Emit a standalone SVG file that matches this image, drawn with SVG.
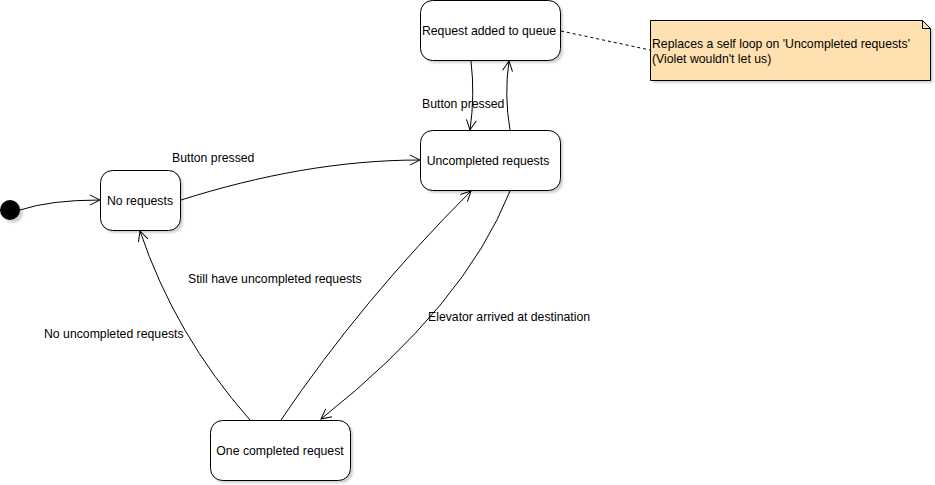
<svg xmlns="http://www.w3.org/2000/svg" width="935" height="485" viewBox="0 0 935 485">
  <style>
    .node rect.box { fill: #ffffff; stroke: #000000; stroke-width: 1; }
    .shadow { fill: #000000; opacity: 0.18; }
    text { font-family: "Liberation Sans", Arial, sans-serif; font-size: 12.25px; fill: #000000; }
    .label { text-anchor: middle; }
    .edge { fill: none; stroke: #000000; stroke-width: 1; marker-end: url(#open); }
    .dash { fill: none; stroke: #000000; stroke-width: 1; stroke-dasharray: 3,3; }
  </style>
  <defs>
    <filter id="blur" x="-10%" y="-10%" width="130%" height="130%">
      <feGaussianBlur stdDeviation="1.2"/>
    </filter>
    <marker id="open" viewBox="0 0 12 12" refX="11" refY="6" markerWidth="12" markerHeight="12" markerUnits="userSpaceOnUse" orient="auto">
      <path d="M1,1 L11,6 L1,11" fill="none" stroke="#000000" stroke-width="1"/>
    </marker>
  </defs>
  <rect width="935" height="485" fill="#ffffff"/>

  <g id="initial" class="node">
    <circle cx="13" cy="213" r="10" class="shadow" filter="url(#blur)"/>
    <circle cx="10" cy="210" r="10" fill="#000000"/>
  </g>

  <g id="no-requests" class="node">
    <rect x="103" y="173" width="80" height="60" rx="12" class="shadow" filter="url(#blur)"/>
    <rect x="100.5" y="170.5" width="80" height="60" rx="12" class="box"/>
    <text x="140" y="205" class="label">No requests</text>
  </g>

  <g id="request-added" class="node">
    <rect x="423" y="3" width="140" height="60" rx="12" class="shadow" filter="url(#blur)"/>
    <rect x="420.5" y="0.5" width="140" height="60" rx="12" class="box"/>
    <text x="489" y="35" class="label">Request added to queue</text>
  </g>

  <g id="uncompleted" class="node">
    <rect x="423" y="133" width="140" height="60" rx="12" class="shadow" filter="url(#blur)"/>
    <rect x="420.5" y="130.5" width="140" height="60" rx="12" class="box"/>
    <text x="488" y="165" class="label">Uncompleted requests</text>
  </g>

  <g id="one-completed" class="node">
    <rect x="213" y="423" width="140" height="60" rx="12" class="shadow" filter="url(#blur)"/>
    <rect x="210.5" y="420.5" width="140" height="60" rx="12" class="box"/>
    <text x="280" y="455" class="label">One completed request</text>
  </g>

  <g id="note" class="node">
    <path d="M653,23 L925,23 L933,31 L933,83 L653,83 Z" class="shadow" filter="url(#blur)"/>
    <path d="M650.5,20.5 L922.5,20.5 L930.5,28.5 L930.5,80.5 L650.5,80.5 Z" fill="#ffe0b0" stroke="#000000" stroke-width="1"/>
    <path d="M922.5,20.5 L922.5,28.5 L930.5,28.5" fill="none" stroke="#000000" stroke-width="1"/>
    <text x="652" y="48">Replaces a self loop on 'Uncompleted requests'</text>
    <text x="652" y="63">(Violet wouldn't let us)</text>
  </g>

  <g id="connectors">
    <path class="edge" d="M20,210 Q50,200 100,200"/>
    <path class="edge" d="M181,200 C260,175 340,160 420,160"/>
    <path class="edge" d="M471,61 Q475,95 470,130"/>
    <path class="edge" d="M510,130 Q504,95 509,61"/>
    <path class="edge" d="M510,191 Q465,305 321,419"/>
    <path class="edge" d="M281,420 Q362,300 471,191"/>
    <path class="edge" d="M250,420 Q175,335 140,231"/>
    <path class="dash" d="M561,31 L650,50"/>
    <text x="172" y="162">Button pressed</text>
    <text x="422" y="108">Button pressed</text>
    <text x="188" y="283">Still have uncompleted requests</text>
    <text x="44" y="338">No uncompleted requests</text>
    <text x="428" y="321">Elevator arrived at destination</text>
  </g>
</svg>
